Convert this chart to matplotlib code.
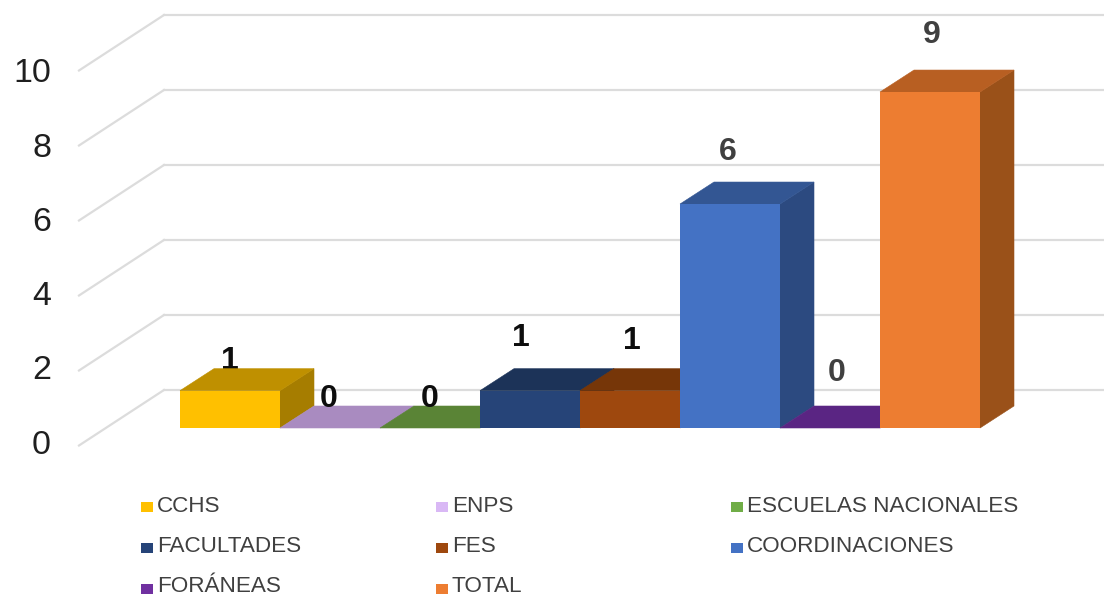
import matplotlib
matplotlib.use("Agg")
import matplotlib.pyplot as plt
from matplotlib.patches import Polygon, Rectangle

categories = ["CCHS", "ENPS", "ESCUELAS NACIONALES", "FACULTADES", "FES", "COORDINACIONES", "FORÁNEAS", "TOTAL"]
values = [1, 0, 0, 1, 1, 6, 0, 9]
front_colors = ["#FFC000", "#D9B8F5", "#70AD47", "#264478", "#9E480E", "#4472C4", "#7030A0", "#ED7D31"]
bar_front = ["#FFC000", "#A98BC0", "#5A8436", "#264478", "#9E480E", "#4472C4", "#7030A0", "#ED7D31"]
top_colors = ["#BF9000", "#A98BC0", "#5A8436", "#1C3358", "#763608", "#335693", "#5A2583", "#B85F22"]
side_colors = ["#A67D00", "#8E75A8", "#4A722E", "#182C4D", "#672F09", "#2C4A80", "#4E1F70", "#9A5119"]
yticks = [0, 2, 4, 6, 8, 10]

W, H = 1104, 597
PX_X, PX_Y = 100.0, 37.33     # pixels per category / per value unit
X0, Y0 = 180.0, 428.0         # pixel of category 0, value 0
DX, DY = 34 / PX_X, 22 / PX_Y  # bar depth in data units
WALL_X0, WALL_Y0 = 164.0, 390.0   # back wall origin
FRONT_X0, FRONT_Y0 = 79.0, 445.5  # side wall front origin
GRID_SCALE = 37.5 / PX_Y
LABEL_SCALE = 37.1 / PX_Y

def dx(px):
    return (px - X0) / PX_X

def dy(py):
    return (Y0 - py) / PX_Y

plt.rcParams["font.family"] = ["Liberation Sans", "DejaVu Sans"]
fig = plt.figure(figsize=(W / 100, H / 100), dpi=100)
ax = fig.add_axes([0, 0, 1, 1])
ax.set_xlim(dx(0), dx(W))
ax.set_ylim(dy(H), dy(0))
ax.axis("off")

# gridlines: back wall plus diagonal side wall
grid = "#DCDCDC"
for t in yticks:
    yb = dy(WALL_Y0) + t * GRID_SCALE
    yf = dy(FRONT_Y0) + t * GRID_SCALE
    ax.plot([dx(WALL_X0), dx(W)], [yb, yb], color=grid, lw=1.6, zorder=1)
    ax.plot([dx(FRONT_X0), dx(WALL_X0)], [yf, yb], color=grid, lw=1.6, zorder=1)
    ax.text(dx(51), dy(445) + t * LABEL_SCALE, str(t), ha="right", va="center",
            fontsize=24.5, color="#1f1f1f")

# 3D bars, left to right
for i, v in enumerate(values):
    ax.add_patch(Polygon([(i + 1, 0), (i + 1 + DX, DY), (i + 1 + DX, v + DY), (i + 1, v)],
                         fc=side_colors[i], ec=side_colors[i], lw=0.4, zorder=2 + i))
    ax.add_patch(Polygon([(i, v), (i + DX, v + DY), (i + 1 + DX, v + DY), (i + 1, v)],
                         fc=top_colors[i], ec=top_colors[i], lw=0.4, zorder=2 + i))
    ax.bar(i, v, width=1, align="edge", color=bar_front[i], zorder=2.5 + i)

# data labels
label_colors = ["#0d0d0d", "#0d0d0d", "#0d0d0d", "#0d0d0d", "#0d0d0d", "#404040", "#404040", "#404040"]
label_offsets = [0.79, 0.78, 0.78, 1.40, 1.32, 1.40, 1.47, 1.53]
label_x = [0.5, 1.49, 2.5, 3.41, 4.52, 5.48, 6.57, 7.52]
for i, v in enumerate(values):
    ax.text(label_x[i], v + label_offsets[i], str(v), ha="center", va="center",
            fontsize=23, fontweight="bold", color=label_colors[i],
            zorder=1.5 if i == 0 else 30)

# legend
col_px = [141, 436, 731]
row_py = [507, 548, 589]
text_py = [507, 547, 586.5]
for i, name in enumerate(categories):
    r, c = i // 3, i % 3
    px, py = col_px[c], row_py[r]
    ax.add_patch(Rectangle((dx(px), dy(py + 5)), 12 / PX_X, 10 / PX_Y, fc=front_colors[i], ec="none", zorder=5))
    ax.text(dx(px + 16), dy(text_py[r]), name, ha="left", va="center", fontsize=16.2, color="#404040")

fig.savefig("out.png", dpi=100)
